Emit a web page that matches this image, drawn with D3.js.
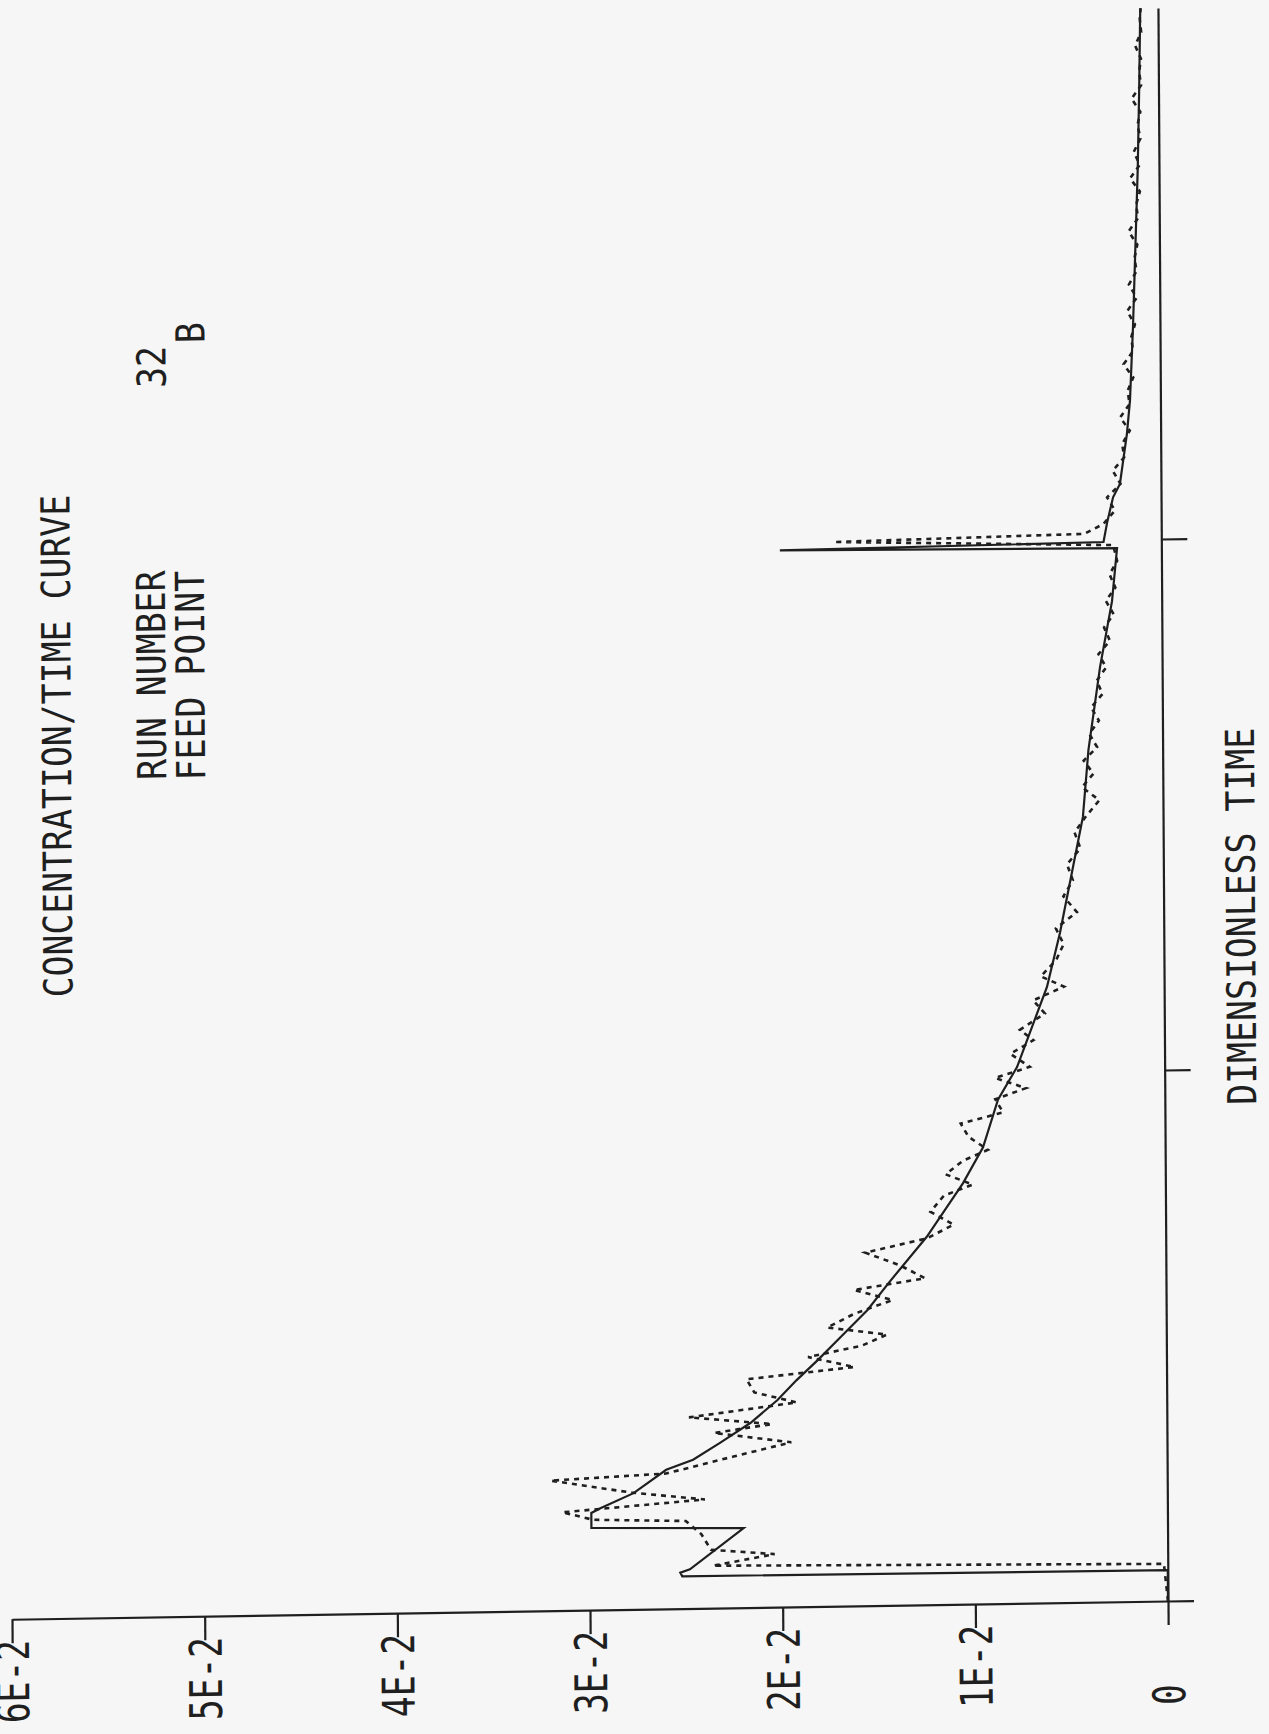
<!DOCTYPE html>
<html>
<head>
<meta charset="utf-8">
<script src="https://cdn.jsdelivr.net/npm/d3@7"></script>
<style>
  html, body { margin: 0; padding: 0; background: #f6f6f6; }
  svg { display: block; }
</style>
</head>
<body>
<svg id="chart" width="1269" height="1734"></svg>
<script>
// ---- axis ticks ----
const concTicks = [0, 0.01, 0.02, 0.03, 0.04, 0.05, 0.06];
const concTickLabels = ["0", "1E-2", "2E-2", "3E-2", "4E-2", "5E-2", "6E-2"];
const timeTicks = [0, 1, 2];

// ---- header text ----
const titleText = "CONCENTRATION/TIME CURVE";
const infoLabels = ["RUN NUMBER", "FEED POINT"];
const infoValues = ["32", "B"];
const timeAxisTitle = "DIMENSIONLESS TIME";

// ---- solid curve: concentration vs dimensionless time ----
const fitTime = [0, 0.058, 0.061, 0.068, 0.074, 0.150, 0.155, 0.183, 0.192, 0.219,
  0.262, 0.280, 0.311, 0.348, 0.390, 0.427, 0.464, 0.507, 0.557, 0.607,
  0.693, 0.793, 0.860, 0.949, 1.010, 1.160, 1.261, 1.385, 1.479, 1.605,
  1.761, 1.884, 1.984, 1.990, 1.996, 2.032, 2.080, 2.105, 2.199, 2.262,
  2.400, 2.550, 2.700, 2.850, 3.000];
const fitConc = [0, 0, 0.0252, 0.0253, 0.0248, 0.0220, 0.0299, 0.0299, 0.0294, 0.0277,
  0.0260, 0.0246, 0.0232, 0.0216, 0.0202, 0.0192, 0.0181, 0.0169, 0.0155, 0.0144,
  0.0124, 0.0105, 0.00945, 0.00866, 0.00766, 0.00608, 0.00539, 0.00469, 0.00416, 0.00385,
  0.00322, 0.00258, 0.00230, 0.0198, 0.00300, 0.00281, 0.00249, 0.00213, 0.00175, 0.00158,
  0.00140, 0.00125, 0.00110, 0.00100, 0.00092];

// ---- dotted curve: sampled concentration vs dimensionless time ----
const sampleTime = [0, 0.070, 0.080, 0.100, 0.110, 0.140, 0.165, 0.170, 0.185, 0.205,
  0.220, 0.245, 0.255, 0.285, 0.310, 0.330, 0.345, 0.360, 0.385, 0.405,
  0.430, 0.450, 0.470, 0.490, 0.510, 0.525, 0.550, 0.575, 0.595, 0.615,
  0.640, 0.665, 0.690, 0.715, 0.740, 0.770, 0.790, 0.810, 0.835, 0.855,
  0.880, 0.905, 0.925, 0.950, 0.970, 0.990, 1.010, 1.035, 1.060, 1.080,
  1.110, 1.135, 1.160, 1.180, 1.210, 1.240, 1.270, 1.300, 1.330, 1.360,
  1.390, 1.420, 1.450, 1.480, 1.510, 1.535, 1.560, 1.585, 1.610, 1.635,
  1.660, 1.685, 1.710, 1.735, 1.760, 1.785, 1.810, 1.835, 1.860, 1.885,
  1.910, 1.935, 1.960, 1.990, 2.004, 2.012, 2.030, 2.055, 2.080, 2.105,
  2.130, 2.155, 2.180, 2.205, 2.230, 2.255, 2.280, 2.305, 2.330, 2.355,
  2.380, 2.405, 2.430, 2.455, 2.480, 2.505, 2.530, 2.555, 2.580, 2.605,
  2.630, 2.655, 2.680, 2.705, 2.730, 2.755, 2.780, 2.805, 2.830, 2.855,
  2.880, 2.905, 2.930, 2.955, 2.980, 3.000];
const sampleConc = [0, 0.0002, 0.0236, 0.0204, 0.0237, 0.0242, 0.0250, 0.0298, 0.0314, 0.0240,
  0.0278, 0.0320, 0.0260, 0.0225, 0.0195, 0.0235, 0.0205, 0.0248, 0.0192, 0.0214,
  0.0218, 0.0162, 0.0186, 0.0158, 0.0145, 0.0176, 0.0162, 0.0142, 0.0162, 0.0125,
  0.0138, 0.0156, 0.0124, 0.0110, 0.0122, 0.0115, 0.0100, 0.0114, 0.0105, 0.0092,
  0.0102, 0.0106, 0.0084, 0.0088, 0.0072, 0.0088, 0.0070, 0.0080, 0.0068, 0.0075,
  0.0062, 0.0068, 0.0052, 0.0064, 0.0056, 0.0052, 0.0056, 0.0045, 0.0052, 0.0047,
  0.0050, 0.0043, 0.0046, 0.0040, 0.0033, 0.0042, 0.0036, 0.0041, 0.0034, 0.0038,
  0.0033, 0.0037, 0.0031, 0.0034, 0.0029, 0.0033, 0.0027, 0.0030, 0.0025, 0.0029,
  0.0024, 0.0027, 0.0023, 0.0025, 0.0170, 0.0040, 0.0030, 0.0024, 0.0028, 0.0021,
  0.0025, 0.0019, 0.0020, 0.0016, 0.0021, 0.0016, 0.0017, 0.0014, 0.0019, 0.0014,
  0.0015, 0.0013, 0.0017, 0.0012, 0.0016, 0.0012, 0.0013, 0.00115, 0.0016, 0.0011,
  0.0012, 0.0010, 0.0015, 0.0010, 0.0013, 0.00095, 0.0011, 0.00095, 0.0014, 0.0009,
  0.0010, 0.0009, 0.0012, 0.00088, 0.00095, 0.0009];

// ---- geometry ----
const ink = "#1f1f1f";
const svg = d3.select("#chart");
svg.append("rect").attr("width", 1269).attr("height", 1734).attr("fill", "#f6f6f6");

// the printed sheet sits slightly askew on the page
const page = svg.append("g")
  .attr("transform", "matrix(1,-0.0158,0.0063,1,-10.09,18.45)");

const x = d3.scaleLinear().domain([0, 0.06]).range([1168, 12]);
const y = d3.scaleLinear().domain([0, 3]).range([1601, 8]);

// concentration axis (runs right-to-left along the bottom)
const concAxis = d3.axisBottom(x)
  .tickValues(concTicks)
  .tickSize(24)
  .tickSizeOuter(0)
  .tickFormat((d, i) => concTickLabels[i]);

const gc = page.append("g")
  .attr("transform", `translate(0,${y(0)})`)
  .call(concAxis);
gc.select(".domain").attr("stroke", ink).attr("stroke-width", 2.2);
gc.selectAll(".tick line").attr("stroke", ink).attr("stroke-width", 2.2);
gc.selectAll(".tick text")
  .attr("x", 0).attr("y", 0)
  .attr("dy", "0.36em")
  .attr("text-anchor", "start")
  .attr("transform", "translate(0,104) rotate(-90) scale(0.77,1)")
  .attr("font-family", "'DejaVu Sans Mono', monospace")
  .attr("font-size", 45)
  .attr("fill", ink);

// time axis (runs bottom-to-top)
const timeAxis = d3.axisRight(y)
  .tickValues(timeTicks)
  .tickSize(26)
  .tickSizeOuter(0)
  .tickFormat("");
const gt = page.append("g")
  .attr("transform", `translate(${x(0)},0)`)
  .call(timeAxis);
gt.select(".domain").attr("stroke", ink).attr("stroke-width", 2.2);
gt.selectAll(".tick line").attr("stroke", ink).attr("stroke-width", 2.2);

// curves
const line = d3.line()
  .x(d => x(d[1]))
  .y(d => y(d[0]));

page.append("path")
  .datum(d3.zip(fitTime, fitConc))
  .attr("d", line)
  .attr("fill", "none")
  .attr("stroke", ink)
  .attr("stroke-width", 2.2)
  .attr("stroke-linejoin", "miter");

page.append("path")
  .datum(d3.zip(sampleTime, sampleConc))
  .attr("d", line)
  .attr("fill", "none")
  .attr("stroke", ink)
  .attr("stroke-width", 2.6)
  .attr("stroke-dasharray", "5,5");

// vertical text helper: reads bottom-to-top, starting at (cx, yStart)
function verticalText(str, cx, yStart, size, squeeze) {
  page.append("text")
    .attr("transform", `translate(${cx},${yStart}) rotate(-90) scale(${squeeze},1)`)
    .attr("dy", "0.36em")
    .attr("text-anchor", "start")
    .attr("font-family", "'DejaVu Sans Mono', monospace")
    .attr("font-size", size)
    .attr("fill", ink)
    .text(str);
}

verticalText(titleText, 62, 980, 40, 0.87);
verticalText(infoLabels[0], 157, 764, 40, 0.87);
verticalText(infoLabels[1], 196, 765, 40, 0.87);
verticalText(infoValues[0], 159, 372, 40, 0.87);
verticalText(infoValues[1], 198, 328, 40, 0.87);
verticalText(timeAxisTitle, 1245, 1106, 40, 0.87);
</script>
</body>
</html>
